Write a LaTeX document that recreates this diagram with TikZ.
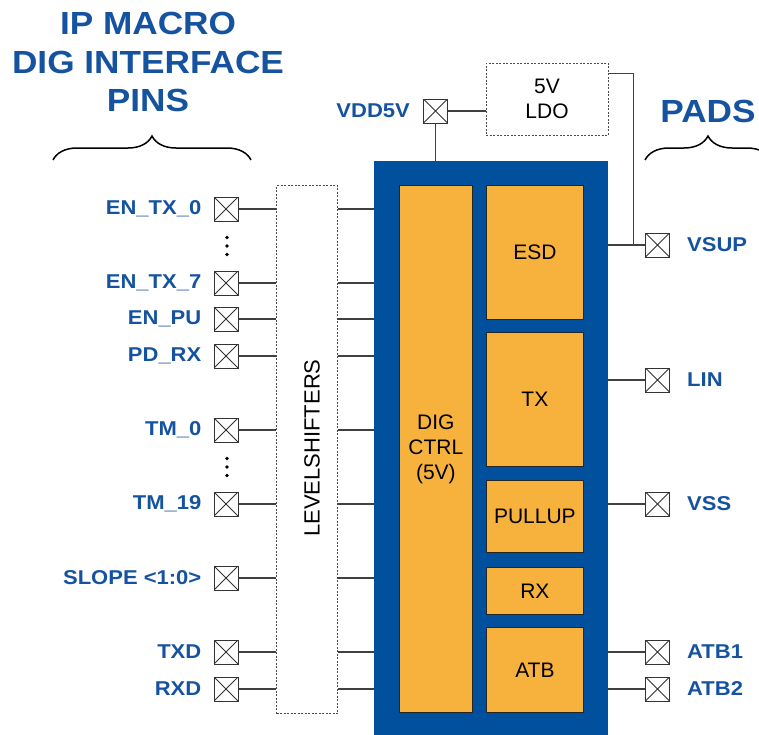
\documentclass[tikz,border=0pt]{standalone}
\usepackage{fontspec}
\setmainfont{Liberation Sans}
\newfontfamily\widefont[FakeStretch=1.1]{Liberation Sans}
\usetikzlibrary{positioning, calc, decorations.pathreplacing}
\definecolor{CoreBlue}{HTML}{00509E}
\definecolor{PinBlue}{HTML}{1553A0}
\definecolor{BlockOrange}{HTML}{F7B23E}
\definecolor{WireGrey}{HTML}{404040}

\tikzset{
  pad/.style={draw=black!80, line width=1pt, fill=white, minimum size=24pt, inner sep=0pt,
    path picture={\draw[black!80, line width=0.9pt]
      (path picture bounding box.north west) -- (path picture bounding box.south east)
      (path picture bounding box.north east) -- (path picture bounding box.south west);}},
  pinlabel/.style={font=\widefont\bfseries\fontsize{20}{24}\selectfont, text=PinBlue, inner sep=0pt},
  block/.style={draw=black!85, line width=0.8pt, fill=BlockOrange, inner sep=0pt,
    font=\fontsize{21}{25}\selectfont, align=center},
  wire/.style={WireGrey, line width=1.2pt},
  dashbox/.style={draw=black!70, line width=1pt, dash pattern=on 2pt off 1.5pt, inner sep=0pt},
  title/.style={font=\widefont\bfseries\fontsize{32}{38.5}\selectfont, text=PinBlue, align=center},
  bracket/.style={decorate, decoration={brace, amplitude=24pt}, line width=1.5pt}
}

\begin{document}
\begin{tikzpicture}[x=1pt, y=-1pt]
  \useasboundingbox (0,0) rectangle (759,734);
  \clip (0,0) rectangle (759,734);

  % Titles and braces
  \node[title] (pinstitle) at (148,62) {IP MACRO\\DIG INTERFACE\\PINS};
  \node[title] (padstitle) at (708,111) {PADS};
  \draw[bracket] (53,160) -- (251,160);
  \draw[bracket] (645,160) -- (771,160);

  % Core macro
  \node[fill=CoreBlue, minimum width=234pt, minimum height=600pt, inner sep=0pt,
    anchor=north west] (core) at (374,161) {};
  \node[block, minimum width=73pt, minimum height=527pt, anchor=north west] (dig) at (399,185) {DIG\\CTRL\\(5V)};
  \node[block, minimum width=97pt, minimum height=134pt, anchor=north west] (esd) at (486,185) {ESD};
  \node[block, minimum width=97pt, minimum height=134pt, anchor=north west] (tx) at (486,332) {TX};
  \node[block, minimum width=97pt, minimum height=72pt, anchor=north west] (pullup) at (486,480) {PULLUP};
  \node[block, minimum width=97pt, minimum height=47pt, anchor=north west] (rx) at (486,567) {RX};
  \node[block, minimum width=97pt, minimum height=85pt, anchor=north west] (atb) at (486,627) {ATB};

  % Level shifters
  \node[dashbox, minimum width=61pt, minimum height=528pt, anchor=north west] (ls) at (276,185) {};
  \node[rotate=90, font=\fontsize{22}{26}\selectfont] (lstext) at (312,448) {LEVELSHIFTERS};

  % LDO and 5V supply
  \node[dashbox, minimum width=122pt, minimum height=72pt, align=center,
    font=\fontsize{21}{25}\selectfont] (ldo) at (547,99) {5V\\LDO};
  \node[pad] (vdd) at (435.5,111) {};
  \node[pinlabel, left=13pt of vdd] (vdd-lbl) {VDD5V};
  \draw[wire] (vdd.east) -- (vdd.east -| ldo.west);
  \draw[wire] (vdd.south) -- (vdd.south |- core.north);

  % Digital interface pins
  \foreach \y/\n/\t in {209/entx0/EN\_TX\_0, 283/entx7/EN\_TX\_7, 319/enpu/EN\_PU,
      356/pdrx/PD\_RX, 430/tm0/TM\_0, 504/tm19/TM\_19, 578/slope/SLOPE <1:0>,
      652/txd/TXD, 689/rxd/RXD} {
    \node[pad] (\n) at (226,\y) {};
    \node[pinlabel, left=12pt of \n] (\n-lbl) {\t};
    \draw[wire] (\n.east) -- (\n.east -| ls.west);
    \draw[wire] (\n -| ls.east) -- (\n -| core.west);
  }
  \foreach \yc in {246,467}
    \foreach \d in {-8.5,0,8.5}
      \fill (227,\yc+\d) circle (1.8pt);

  % Pads
  \foreach \y/\n/\t in {245/vsup/VSUP, 380/lin/LIN, 504/vss/VSS, 652/atbone/ATB1, 689/atbtwo/ATB2} {
    \node[pad] (\n) at (657.5,\y) {};
    \node[pinlabel, right=17pt of \n] (\n-lbl) {\t};
    \draw[wire] (core.east |- \n) -- (\n.west);
  }
  \coordinate (ldoout) at ($(ldo.north east)+(0,11)$);
  \draw[wire] (ldoout) -- ++(25,0) |- (vsup.west);
\end{tikzpicture}
\end{document}
